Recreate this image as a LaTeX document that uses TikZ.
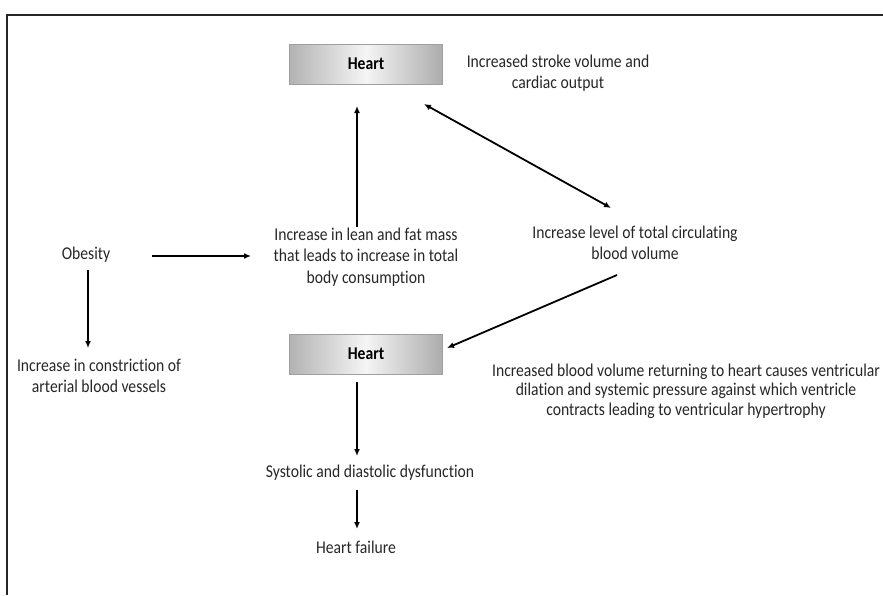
\documentclass[tikz,border=0pt]{standalone}
\usepackage{fontspec}
\setmainfont[FakeStretch=0.87,Ligatures={NoCommon}]{Carlito}
\usetikzlibrary{arrows.meta}
\begin{document}
\begin{tikzpicture}[x=1pt,y=-1pt,
  txt/.style={align=center,font=\fontsize{18}{21.5}\selectfont,inner sep=0pt,text=black!85},
  heartbox/.style={minimum width=153pt,minimum height=40pt,inner sep=0pt,
    left color=gray!60,right color=gray!65,middle color=gray!8,
    draw=gray!75,line width=1pt,font=\fontsize{18}{21}\selectfont\bfseries},
  arr/.style={line width=1.8pt,-{Latex[length=7pt,width=6pt]}},
  darr/.style={line width=1.8pt,{Latex[length=7pt,width=6pt]}-{Latex[length=7pt,width=6pt]}}]
\useasboundingbox (0,0) rectangle (883,595);
\draw[line width=2pt,gray!30!black] (7,595) -- (7,15) -- (884,15);
\node[heartbox] (h1) at (366,64) {Heart};
\node[txt] (sv) at (558,73) {Increased stroke volume and\\cardiac output};
\node[txt] (ob) at (86,255) {Obesity};
\node[txt] (lean) at (366,257) {Increase in lean and fat mass\\that leads to increase in total\\body consumption};
\node[txt] (bv) at (635,243) {Increase level of total circulating\\blood volume};
\node[txt] (con) at (99,376) {Increase in constriction of\\arterial blood vessels};
\node[heartbox] (h2) at (366,354) {Heart};
\node[txt,font=\fontsize{18}{19.5}\selectfont] (ret) at (686,391) {Increased blood volume returning to heart causes ventricular\\dilation and systemic pressure against which ventricle\\contracts leading to ventricular hypertrophy};
\node[txt] (sys) at (370,473) {Systolic and diastolic dysfunction};
\node[txt] (hf) at (356,547) {Heart failure};
\coordinate (a1s) at (357,227);
\coordinate (a1e) at (357,106);
\draw[arr] (a1s) -- (a1e);
\coordinate (d1) at (424,104);
\coordinate (d2) at (611,208);
\draw[darr] (d1) -- (d2);
\coordinate (o1) at (152,256);
\coordinate (o2) at (251,256);
\draw[arr] (o1) -- (o2);
\coordinate (c1) at (88,270);
\coordinate (c2) at (88,348);
\draw[arr] (c1) -- (c2);
\coordinate (b1) at (617,275);
\coordinate (b2) at (447,348);
\draw[arr] (b1) -- (b2);
\coordinate (s1) at (357,382);
\coordinate (s2) at (357,456);
\draw[arr] (s1) -- (s2);
\coordinate (f1) at (357,490);
\coordinate (f2) at (357,529);
\draw[arr] (f1) -- (f2);
\end{tikzpicture}
\end{document}
